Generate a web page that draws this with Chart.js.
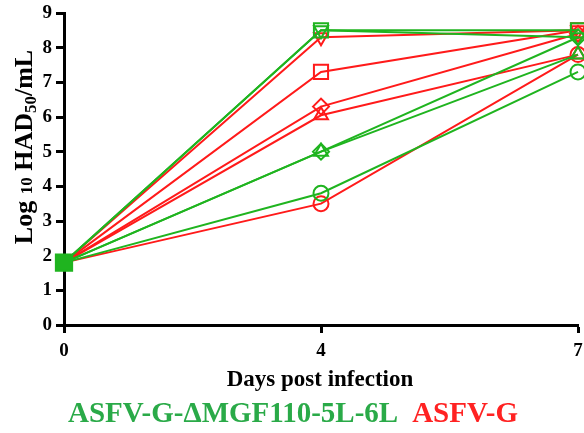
<!DOCTYPE html>
<html>
<head>
<meta charset="utf-8">
<script src="https://cdn.jsdelivr.net/npm/chart.js@4"></script>
<style>
  html, body { margin: 0; padding: 0; background: #fff; }
  #wrap { width: 584px; height: 433px; }
</style>
</head>
<body>
<div id="wrap"><canvas id="myChart" width="584" height="433"></canvas></div>
<script>
// days post infection (category axis, equally spaced)
const days = ['0', '4', '7'];

// ASFV-G-ΔMGF110-5L-6L (green), one array per animal
const mgfSquare   = [1.8, 8.5, 8.5];
const mgfDown     = [1.8, 8.5, 8.3];
const mgfDiamond  = [1.8, 5.0, 8.3];
const mgfTriangle = [1.8, 5.0, 7.8];
const mgfCircle   = [1.8, 3.8, 7.3];

// ASFV-G (red)
const gSquare   = [1.8, 7.3, 8.5];
const gDown     = [1.8, 8.3, 8.5];
const gDiamond  = [1.8, 6.3, 8.4];
const gTriangle = [1.8, 6.05, 7.8];
const gCircle   = [1.8, 3.5, 7.8];

const yTicks = [0, 1, 2, 3, 4, 5, 6, 7, 8, 9];

const GREEN = '#1fb41f';
const RED = '#ff1a1a';
const SERIF = '"Liberation Serif", "DejaVu Serif", serif';

function series(data, color, style, r, rot, fillFirst) {
    return {
        data: data,
        borderColor: color,
        borderWidth: 2,
        pointStyle: style,
        pointRotation: rot || 0,
        pointRadius: [fillFirst ? 11.5 : 0, r, r],
        pointHoverRadius: [fillFirst ? 11.5 : 0, r, r],
        pointBorderColor: color,
        pointBorderWidth: 2,
        pointBackgroundColor: [fillFirst ? color : 'rgba(0,0,0,0)', 'rgba(0,0,0,0)', 'rgba(0,0,0,0)'],
        fill: false,
        tension: 0,
        clip: false
    };
}

// y title with subscripts, x title and coloured legend text
const textPlugin = {
    id: 'texts',
    afterDraw(chart) {
        const ctx = chart.ctx;
        ctx.save();
        // y axis title, rotated
        const parts = [
            { t: 'Log ', s: 26, dy: 0 },
            { t: '10', s: 17, dy: 0 },
            { t: ' HAD', s: 26, dy: 0 },
            { t: '50', s: 17, dy: 4 },
            { t: '/mL', s: 26, dy: 0 }
        ];
        let total = 0;
        parts.forEach(p => {
            ctx.font = 'bold ' + p.s + 'px ' + SERIF;
            p.w = ctx.measureText(p.t).width;
            total += p.w;
        });
        ctx.translate(32, 147 + total / 2);
        ctx.rotate(-Math.PI / 2);
        ctx.fillStyle = '#000';
        ctx.textBaseline = 'alphabetic';
        ctx.textAlign = 'left';
        let x = 0;
        parts.forEach(p => {
            ctx.font = 'bold ' + p.s + 'px ' + SERIF;
            ctx.fillText(p.t, x, p.dy);
            x += p.w;
        });
        ctx.restore();

        // x axis title
        ctx.save();
        ctx.font = 'bold 23px ' + SERIF;
        ctx.textAlign = 'center';
        ctx.textBaseline = 'middle';
        ctx.fillStyle = '#000';
        ctx.fillText('Days post infection', 320, 380);
        ctx.restore();

        // legend
        ctx.save();
        ctx.font = 'bold 29px ' + SERIF;
        ctx.textBaseline = 'middle';
        ctx.textAlign = 'left';
        const g = 'ASFV-G-ΔMGF110-5L-6L';
        ctx.fillStyle = '#2aaa48';
        ctx.fillText(g, 68, 415);
        ctx.fillStyle = '#f22';
        ctx.fillText('ASFV-G', 68 + ctx.measureText(g).width + 14, 415);
        ctx.restore();
    }
};

const ctx = document.getElementById('myChart').getContext('2d');
new Chart(ctx, {
    type: 'line',
    data: {
        labels: days,
        datasets: [
            series(mgfSquare, GREEN, 'rect', 10, 0, true),
            series(mgfDown, GREEN, 'triangle', 8, 180),
            series(mgfDiamond, GREEN, 'rectRot', 8),
            series(mgfTriangle, GREEN, 'triangle', 8),
            series(mgfCircle, GREEN, 'circle', 7.5),
            series(gSquare, RED, 'rect', 10),
            series(gDown, RED, 'triangle', 8, 180),
            series(gDiamond, RED, 'rectRot', 8),
            series(gTriangle, RED, 'triangle', 8),
            series(gCircle, RED, 'circle', 7.5)
        ]
    },
    options: {
        responsive: false,
        animation: false,
        layout: { autoPadding: false, padding: { top: 13, right: 6, left: 0, bottom: 0 } },
        plugins: {
            legend: { display: false },
            tooltip: { enabled: false }
        },
        scales: {
            x: {
                type: 'category',
                offset: false,
                afterFit(scale) {
                    scale.height = 108;
                    scale.paddingLeft = 0;
                    scale.paddingRight = 0;
                },
                grid: { drawOnChartArea: false, drawTicks: true, tickLength: 8, tickWidth: 3, tickColor: '#000' },
                border: { display: true, color: '#000', width: 3 },
                ticks: { color: '#000', padding: 7, maxRotation: 0, font: { family: SERIF, size: 19, weight: 'bold' } }
            },
            y: {
                type: 'linear',
                min: 0,
                max: 9,
                afterFit(scale) {
                    scale.width = 64;
                    scale.paddingTop = 0;
                    scale.paddingBottom = 0;
                },
                afterBuildTicks(scale) { scale.ticks = yTicks.map(v => ({ value: v })); },
                grid: { drawOnChartArea: false, drawTicks: true, tickLength: 8, tickWidth: 3, tickColor: '#000' },
                border: { display: true, color: '#000', width: 3 },
                ticks: { color: '#000', padding: 4, font: { family: SERIF, size: 19, weight: 'bold' } }
            }
        }
    },
    plugins: [textPlugin]
});
</script>
</body>
</html>
